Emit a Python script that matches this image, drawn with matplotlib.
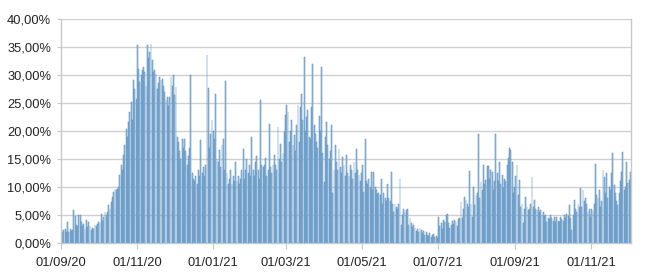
import matplotlib
matplotlib.use("Agg")
import matplotlib.pyplot as plt
import matplotlib.dates as mdates
from matplotlib.ticker import FuncFormatter, MultipleLocator
import pandas as pd

# Daily series, starting 01/09/2020 (percent values)
start_date = "2020-09-01"
values = [
    1.6, 2.0, 2.3, 2.5, 2.0, 3.8, 2.0,
    2.5, 2.2, 2.4, 5.9, 4.8, 3.2, 3.0,
    5.0, 5.0, 3.8, 3.0, 3.4, 2.5, 4.1,
    2.8, 3.8, 3.0, 2.3, 2.6, 2.5, 3.2,
    3.0, 3.4, 3.8, 3.5, 5.2, 4.0, 4.6,
    5.5, 5.0, 5.5, 6.8, 6.0, 7.3, 8.2,
    9.1, 9.6, 9.4, 9.7, 10.0, 12.1, 14.0,
    13.0, 15.7, 17.5, 20.4, 19.0, 21.6, 23.4,
    25.2, 22.0, 29.1, 27.5, 25.7, 35.4, 31.1,
    28.8, 30.0, 30.9, 31.4, 30.5, 28.0, 35.4,
    33.0, 34.1, 35.5, 32.7, 30.5, 30.9, 30.2,
    27.5, 28.5, 29.6, 29.1, 29.3, 28.0, 27.0,
    25.5, 26.0, 24.5, 26.0, 29.6, 28.0, 30.0,
    26.4, 27.8, 19.0, 18.0, 16.5, 15.0, 18.5,
    17.0, 18.5, 16.5, 14.0, 15.5, 17.0, 30.0,
    12.5, 11.5, 11.0, 12.0, 10.5, 13.0, 12.0,
    18.4, 12.5, 13.5, 12.0, 14.0, 33.5, 27.7,
    17.0, 19.5, 22.0, 20.0, 18.5, 26.6, 15.0,
    14.5, 16.6, 13.5, 17.5, 18.6, 13.0, 29.0,
    12.5, 10.5, 11.5, 13.0, 10.5, 12.0, 11.0,
    14.5, 11.0, 12.0, 10.5, 11.5, 13.0, 16.8,
    11.5, 13.0, 15.0, 12.5, 14.0, 12.0, 19.0,
    13.0, 12.0, 14.5, 15.5, 13.0, 11.5, 25.5,
    14.0, 13.5, 14.0, 15.2, 12.0, 13.0, 21.2,
    13.5, 12.5, 14.0, 15.7, 14.0, 13.0, 20.7,
    15.0, 17.7, 14.5, 16.0, 19.8, 22.8, 24.6,
    23.4, 18.0, 20.0, 22.0, 17.5, 19.3, 16.5,
    21.0, 24.6, 18.0, 24.3, 26.6, 22.0, 33.2,
    20.0, 22.5, 23.7, 19.0, 18.5, 24.3, 32.0,
    21.0, 19.5, 18.0, 17.0, 22.7, 20.0, 31.4,
    16.0, 10.9, 19.0, 21.6, 17.5, 15.0, 16.5,
    21.0, 9.0, 13.0, 17.5, 14.5, 13.0, 16.8,
    13.5, 12.5, 15.4, 14.0, 12.0, 15.7, 12.5,
    12.0, 14.0, 13.0, 11.5, 14.5, 12.5, 16.8,
    13.0, 12.1, 11.0, 12.5, 14.0, 9.1, 18.6,
    11.0, 10.5, 11.4, 10.0, 12.7, 9.5, 12.7,
    10.0, 9.5, 8.8, 9.0, 8.5, 11.4, 7.0,
    9.0, 8.0, 7.5, 10.5, 8.0, 7.5, 12.7,
    7.0, 5.5, 7.0, 6.5, 6.0, 7.0, 11.4,
    3.2, 5.0, 6.1, 5.5, 5.9, 6.1, 3.2,
    4.5, 3.5, 2.8, 3.2, 2.7, 2.2, 2.5,
    2.0, 2.7, 2.3, 1.8, 2.2, 1.5, 2.0,
    1.4, 1.2, 1.8, 1.0, 1.4, 1.6, 1.1,
    1.3, 0.9, 4.6, 3.0, 3.6, 2.5, 4.1,
    3.8, 5.0, 5.2, 3.5, 2.7, 3.2, 4.0,
    3.4, 4.1, 3.8, 3.0, 4.3, 4.5, 7.3,
    4.4, 6.0, 8.2, 7.7, 7.0, 6.5, 12.9,
    7.0, 4.6, 10.0, 6.8, 8.5, 9.0, 19.5,
    8.0, 10.9, 9.5, 13.9, 10.5, 11.2, 13.8,
    13.8, 11.5, 13.0, 12.7, 9.5, 11.0, 19.5,
    12.5, 11.0, 14.5, 10.5, 12.1, 9.8, 11.5,
    11.0, 13.9, 15.2, 17.0, 16.6, 14.5, 8.9,
    10.0, 12.0, 13.9, 8.5, 11.2, 6.4, 7.0,
    3.6, 6.0, 8.2, 6.5, 5.9, 6.0, 7.0,
    11.8, 6.4, 7.7, 6.0, 5.9, 6.5, 5.5,
    5.9, 5.0, 5.5, 4.8, 5.0, 3.8, 4.5,
    4.2, 5.0, 4.5, 4.0, 4.6, 3.8, 4.6,
    4.0, 3.8, 4.6, 4.2, 3.9, 5.0, 4.5,
    5.2, 4.8, 6.8, 4.5, 2.3, 5.0, 7.7,
    6.0, 5.5, 7.0, 6.5, 9.8, 6.5, 9.5,
    7.5, 8.0, 7.0, 5.5, 6.0, 4.6, 6.0,
    5.8, 7.0, 14.1, 8.6, 8.0, 9.5, 6.4,
    7.5, 13.0, 11.8, 9.0, 12.5, 8.0, 10.0,
    9.5, 12.5, 16.1, 10.4, 9.0, 7.5, 6.8,
    8.9, 11.0, 12.7, 16.3, 9.5, 10.0, 14.5,
    10.7, 11.2, 12.7,
]
tick_dates = ["2020-09-01", "2020-11-01", "2021-01-01", "2021-03-01",
              "2021-05-01", "2021-07-01", "2021-09-01", "2021-11-01"]

dates = pd.date_range(start_date, periods=len(values), freq="D")

plt.rcParams['font.family'] = ['Liberation Sans', 'DejaVu Sans']

fig = plt.figure(figsize=(6.5, 2.76), dpi=100)
ax = fig.add_axes([0.0938, 0.1196, 0.971 - 0.0938, 0.931 - 0.1196])

x = mdates.date2num(dates)
ax.bar(x, [v / 100 for v in values], width=0.7, align='edge',
       color='#a9cae8', edgecolor='#4d87b8', linewidth=0.35, zorder=2)

ax.set_ylim(0, 0.40)
ax.set_xlim(x[0], x[-1] + 1)
ax.yaxis.set_major_locator(MultipleLocator(0.05))
ax.yaxis.set_major_formatter(FuncFormatter(lambda v, p: f"{v*100:.2f}".replace('.', ',') + "%"))

tx = mdates.date2num(pd.to_datetime(tick_dates))
ax.set_xticks(tx)
ax.set_xticklabels([pd.Timestamp(d).strftime("%d/%m/%y") for d in tick_dates])

ax.grid(axis='y', color='#d0d0d0', linewidth=1.0, zorder=0)
for s in ['left', 'right', 'top', 'bottom']:
    ax.spines[s].set_color('#c8c8c8')
    ax.spines[s].set_linewidth(1.0)
ax.spines['top'].set_visible(False)

ax.tick_params(axis='y', length=3, color='#c8c8c8', labelsize=9.3, pad=4, labelcolor='#222222')
ax.tick_params(axis='x', length=4, color='#c8c8c8', labelsize=9.3, pad=6, labelcolor='#222222')

fig.savefig("out.png", dpi=100)
